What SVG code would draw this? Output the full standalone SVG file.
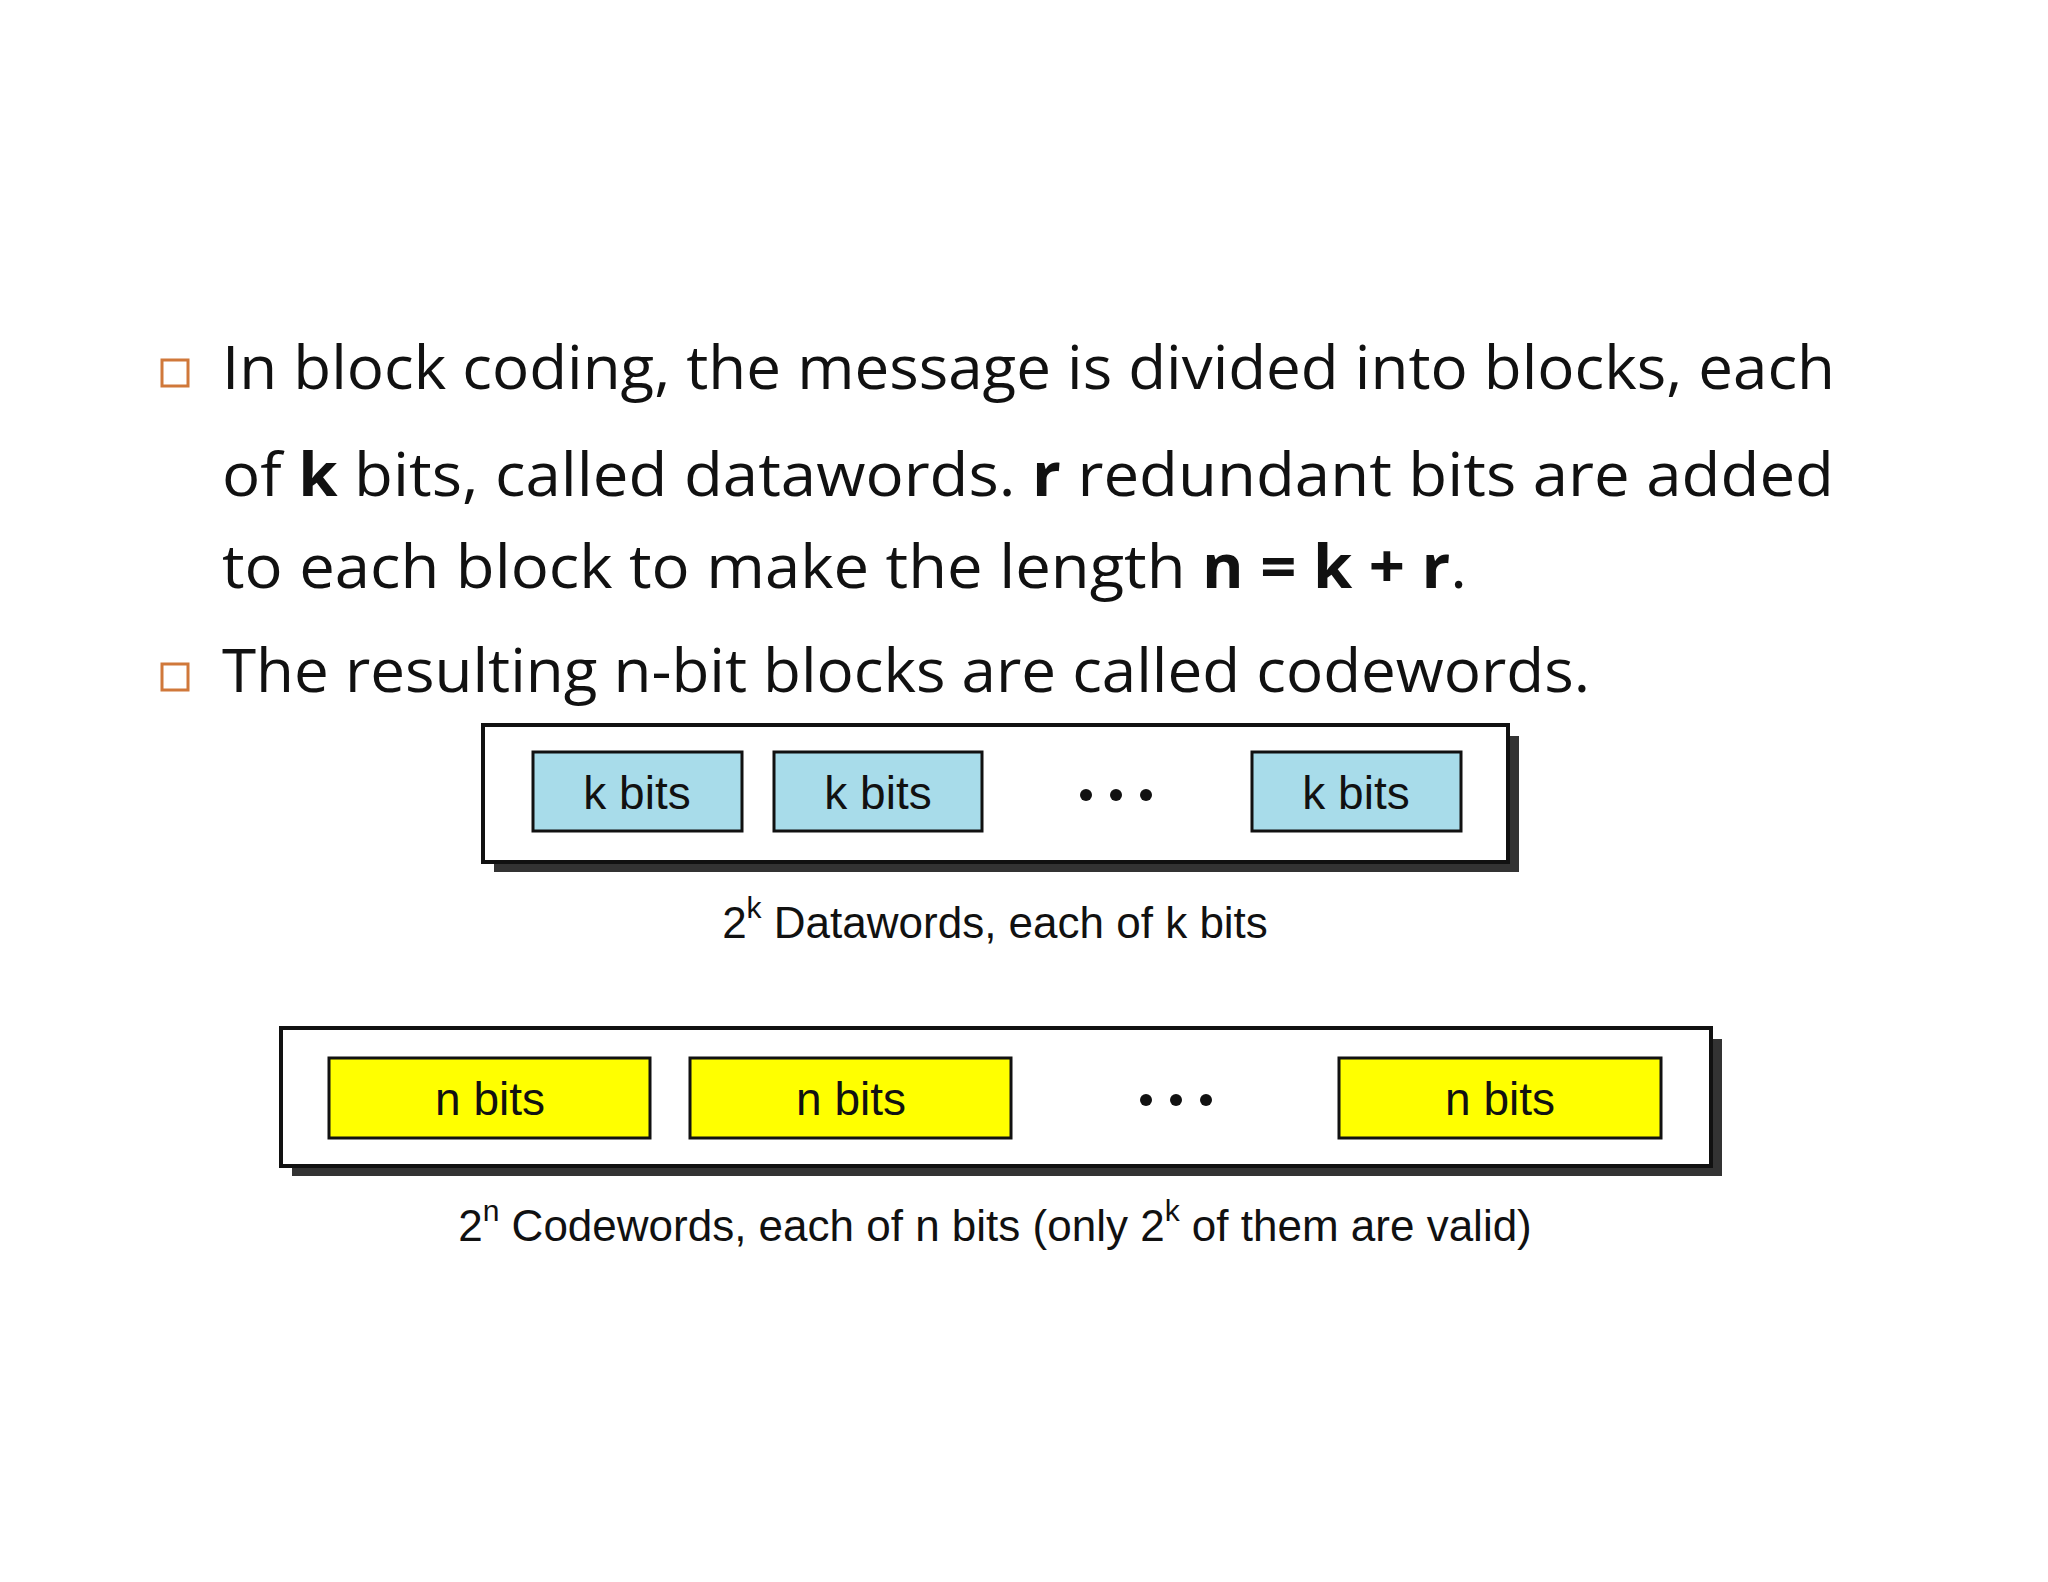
<svg xmlns="http://www.w3.org/2000/svg" width="2048" height="1582" viewBox="0 0 2048 1582">
<style>
.b{font-family:"Open Sans","Liberation Sans",sans-serif;font-size:60px;fill:#111}
.bul{fill:#fff;stroke:#d0783a;stroke-width:3}
.frame{fill:#fff;stroke:#111;stroke-width:4}
.sh{fill:#333}
.k{fill:#a8dcea;stroke:#111;stroke-width:3}
.n{fill:#ffff00;stroke:#111;stroke-width:3}
.t{font-family:"Liberation Sans",sans-serif;font-size:46px;fill:#111;text-anchor:middle}
.c{font-family:"Liberation Sans",sans-serif;font-size:44px;fill:#111;text-anchor:middle}
</style>
<g id="text">
<rect class="bul" x="162" y="360" width="26" height="26"/>
<rect class="bul" x="162" y="664" width="26" height="26"/>
<text class="b" x="222" y="389" textLength="1613" lengthAdjust="spacingAndGlyphs">In block coding, the message is divided into blocks, each</text>
<text class="b" x="222" y="496" textLength="1612" lengthAdjust="spacingAndGlyphs">of <tspan font-weight="bold">k</tspan> bits, called datawords. <tspan font-weight="bold">r</tspan> redundant bits are added</text>
<text class="b" x="222" y="588" textLength="1245" lengthAdjust="spacingAndGlyphs">to each block to make the length <tspan font-weight="bold">n = k + r</tspan>.</text>
<text class="b" x="222" y="692" textLength="1368" lengthAdjust="spacingAndGlyphs">The resulting n-bit blocks are called codewords.</text>
</g>
<g id="datawords">
<rect class="sh" x="494" y="736" width="1025" height="136"/>
<rect class="frame" x="483" y="725" width="1025" height="137"/>
<rect class="k" x="533" y="752" width="209" height="79"/>
<rect class="k" x="774" y="752" width="208" height="79"/>
<rect class="k" x="1252" y="752" width="209" height="79"/>
<text class="t" x="637" y="809">k bits</text>
<text class="t" x="878" y="809">k bits</text>
<text class="t" x="1356" y="809">k bits</text>
<g fill="#111"><circle cx="1086" cy="795" r="6"/><circle cx="1116" cy="795" r="6"/><circle cx="1146" cy="795" r="6"/></g>
<text class="c" x="995" y="938">2<tspan dy="-20" font-size="30">k</tspan><tspan dy="20"> Datawords, each of k bits</tspan></text>
</g>
<g id="codewords">
<rect class="sh" x="292" y="1039" width="1430" height="137"/>
<rect class="frame" x="281" y="1028" width="1430" height="138"/>
<rect class="n" x="329" y="1058" width="321" height="80"/>
<rect class="n" x="690" y="1058" width="321" height="80"/>
<rect class="n" x="1339" y="1058" width="322" height="80"/>
<text class="t" x="490" y="1115">n bits</text>
<text class="t" x="851" y="1115">n bits</text>
<text class="t" x="1500" y="1115">n bits</text>
<g fill="#111"><circle cx="1146" cy="1100" r="6"/><circle cx="1176" cy="1100" r="6"/><circle cx="1206" cy="1100" r="6"/></g>
<text class="c" x="995" y="1241">2<tspan dy="-20" font-size="30">n</tspan><tspan dy="20"> Codewords, each of n bits (only 2</tspan><tspan dy="-20" font-size="30">k</tspan><tspan dy="20"> of them are valid)</tspan></text>
</g>
<g id="connectors"/>
</svg>
